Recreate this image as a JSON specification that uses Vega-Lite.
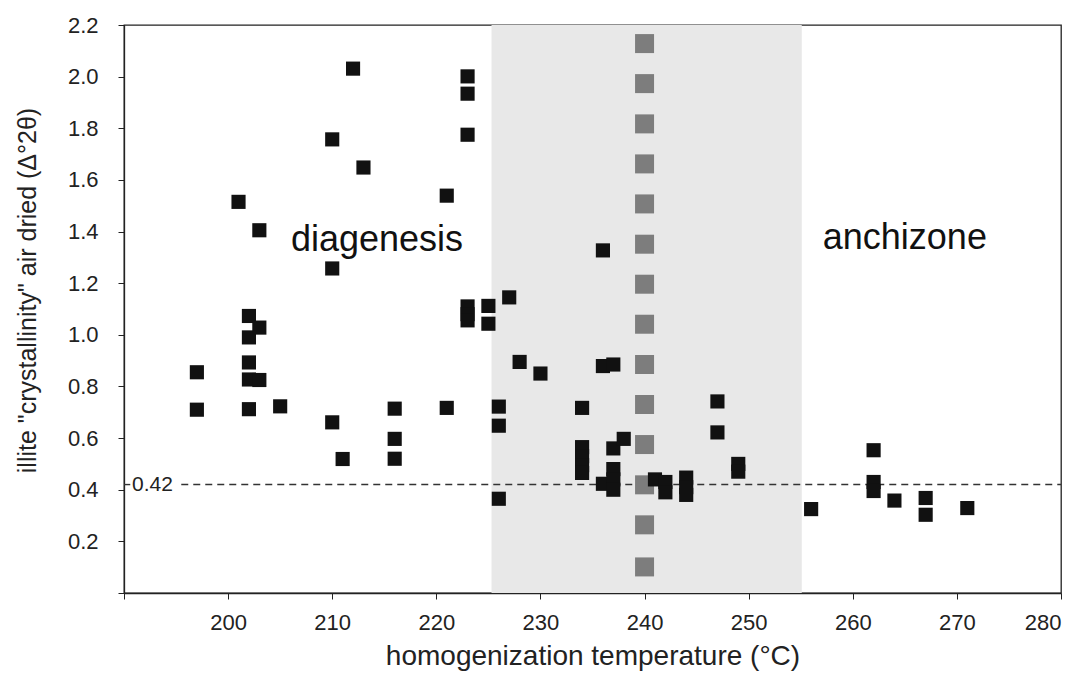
{
  "$schema": "https://vega.github.io/schema/vega-lite/v6.json",
  "description": "Illite crystallinity vs homogenization temperature",
  "width": 937,
  "height": 568,
  "autosize": "none",
  "padding": {"left": 124, "top": 25, "right": 17, "bottom": 88},
  "background": "white",
  "data": {"values": [{}]},
  "datasets": {
    "illite": [
      {"temp": 197, "ic": 0.855}, {"temp": 197, "ic": 0.71},
      {"temp": 201, "ic": 1.515}, {"temp": 202, "ic": 1.073},
      {"temp": 203, "ic": 1.028}, {"temp": 202, "ic": 0.99},
      {"temp": 202, "ic": 0.893}, {"temp": 202, "ic": 0.827},
      {"temp": 203, "ic": 0.825}, {"temp": 202, "ic": 0.712},
      {"temp": 203, "ic": 1.405}, {"temp": 205, "ic": 0.723},
      {"temp": 210, "ic": 1.757}, {"temp": 210, "ic": 1.257},
      {"temp": 210, "ic": 0.661}, {"temp": 211, "ic": 0.519},
      {"temp": 212, "ic": 2.031}, {"temp": 213, "ic": 1.648},
      {"temp": 216, "ic": 0.714}, {"temp": 216, "ic": 0.597},
      {"temp": 216, "ic": 0.52}, {"temp": 221, "ic": 1.539},
      {"temp": 221, "ic": 0.717}, {"temp": 223, "ic": 2.001},
      {"temp": 223, "ic": 1.934}, {"temp": 223, "ic": 1.775},
      {"temp": 223, "ic": 1.11}, {"temp": 223, "ic": 1.08},
      {"temp": 223, "ic": 1.056}, {"temp": 225, "ic": 1.112},
      {"temp": 225, "ic": 1.043}, {"temp": 226, "ic": 0.722},
      {"temp": 226, "ic": 0.648}, {"temp": 226, "ic": 0.365},
      {"temp": 227, "ic": 1.145}, {"temp": 228, "ic": 0.895},
      {"temp": 230, "ic": 0.85}, {"temp": 234, "ic": 0.717},
      {"temp": 234, "ic": 0.565}, {"temp": 234, "ic": 0.53},
      {"temp": 234, "ic": 0.495}, {"temp": 234, "ic": 0.465},
      {"temp": 236, "ic": 1.327}, {"temp": 236, "ic": 0.879},
      {"temp": 237, "ic": 0.885}, {"temp": 236, "ic": 0.423},
      {"temp": 237, "ic": 0.56}, {"temp": 238, "ic": 0.597},
      {"temp": 237, "ic": 0.48}, {"temp": 237, "ic": 0.44},
      {"temp": 237, "ic": 0.40}, {"temp": 241, "ic": 0.44},
      {"temp": 242, "ic": 0.43}, {"temp": 242, "ic": 0.39},
      {"temp": 244, "ic": 0.447}, {"temp": 244, "ic": 0.41},
      {"temp": 244, "ic": 0.38}, {"temp": 247, "ic": 0.742},
      {"temp": 247, "ic": 0.622}, {"temp": 249, "ic": 0.50},
      {"temp": 249, "ic": 0.47}, {"temp": 256, "ic": 0.325},
      {"temp": 262, "ic": 0.553}, {"temp": 262, "ic": 0.43},
      {"temp": 262, "ic": 0.395}, {"temp": 264, "ic": 0.358},
      {"temp": 267, "ic": 0.368}, {"temp": 267, "ic": 0.303},
      {"temp": 271, "ic": 0.329}
    ],
    "marker": [
      {"temp": 240, "ic": 2.128}, {"temp": 240, "ic": 1.973},
      {"temp": 240, "ic": 1.817}, {"temp": 240, "ic": 1.662},
      {"temp": 240, "ic": 1.507}, {"temp": 240, "ic": 1.351},
      {"temp": 240, "ic": 1.196}, {"temp": 240, "ic": 1.041},
      {"temp": 240, "ic": 0.885}, {"temp": 240, "ic": 0.73},
      {"temp": 240, "ic": 0.575}, {"temp": 240, "ic": 0.419},
      {"temp": 240, "ic": 0.264}, {"temp": 240, "ic": 0.101}
    ]
  },
  "layer": [
    {
      "mark": {"type": "rect", "color": "#e8e8e8"},
      "encoding": {
        "x": {"datum": 225.3, "type": "quantitative"},
        "x2": {"datum": 255.1}
      }
    },
    {
      "mark": {"type": "rule", "color": "#333", "strokeWidth": 1.4, "strokeDash": [7, 5]},
      "encoding": {
        "x": {"datum": 195.5, "type": "quantitative"},
        "x2": {"datum": 280},
        "y": {"datum": 0.42, "type": "quantitative"}
      }
    },
    {
      "mark": {"type": "rule", "color": "#333", "strokeWidth": 1.4},
      "encoding": {
        "x": {"datum": 190, "type": "quantitative"},
        "x2": {"datum": 190.6},
        "y": {"datum": 0.42, "type": "quantitative"}
      }
    },
    {
      "mark": {"type": "text", "text": "0.42", "align": "left", "baseline": "middle", "dx": 8, "font": "Liberation Sans", "fontSize": 21, "color": "#222"},
      "encoding": {
        "x": {"datum": 190, "type": "quantitative"},
        "y": {"datum": 0.42, "type": "quantitative"}
      }
    },
    {
      "data": {"name": "marker"},
      "mark": {"type": "square", "filled": true, "color": "#7d7d7d", "size": 361, "opacity": 1},
      "encoding": {
        "x": {"field": "temp", "type": "quantitative"},
        "y": {"field": "ic", "type": "quantitative"}
      }
    },
    {
      "data": {"name": "illite"},
      "mark": {"type": "square", "filled": true, "color": "#111", "size": 200, "opacity": 1},
      "encoding": {
        "x": {
          "field": "temp",
          "type": "quantitative",
          "title": "homogenization temperature (°C)",
          "scale": {"domain": [190, 280], "nice": false, "zero": false},
          "axis": {
            "values": [190, 200, 210, 220, 230, 240, 250, 260, 270, 280],
            "labelExpr": "datum.value == 190 ? '' : datum.label",
            "labelPadding": 13,
            "titlePadding": 9,
            "titleFontSize": 28
          }
        },
        "y": {
          "field": "ic",
          "type": "quantitative",
          "title": "illite \"crystallinity\" air dried (Δ°2θ)",
          "scale": {"domain": [0, 2.2], "nice": false, "zero": false},
          "axis": {
            "values": [0, 0.2, 0.4, 0.6, 0.8, 1.0, 1.2, 1.4, 1.6, 1.8, 2.0, 2.2],
            "labelExpr": "datum.value == 0 ? '' : format(datum.value, '.1f')",
            "labelPadding": 20,
            "titleX": -97,
            "titleY": 265,
            "titleBaseline": "middle",
            "titleAnchor": "middle",
            "titleFontSize": 25
          }
        }
      }
    },
    {
      "mark": {"type": "text", "text": "diagenesis", "align": "center", "baseline": "alphabetic", "font": "Liberation Sans", "fontSize": 36, "color": "#111"},
      "encoding": {
        "x": {"datum": 214.3, "type": "quantitative"},
        "y": {"datum": 1.324, "type": "quantitative"}
      }
    },
    {
      "mark": {"type": "text", "text": "anchizone", "align": "center", "baseline": "alphabetic", "font": "Liberation Sans", "fontSize": 36, "color": "#111"},
      "encoding": {
        "x": {"datum": 265, "type": "quantitative"},
        "y": {"datum": 1.332, "type": "quantitative"}
      }
    }
  ],
  "config": {
    "view": {"stroke": "#222", "strokeWidth": 1.3},
    "axis": {
      "grid": false,
      "domainColor": "#222",
      "domainWidth": 1.3,
      "tickColor": "#222",
      "tickSize": 6,
      "labelFont": "Liberation Sans",
      "labelFontSize": 22,
      "labelColor": "#222",
      "titleFont": "Liberation Sans",
      "titleFontWeight": "normal",
      "titleColor": "#222"
    }
  }
}
